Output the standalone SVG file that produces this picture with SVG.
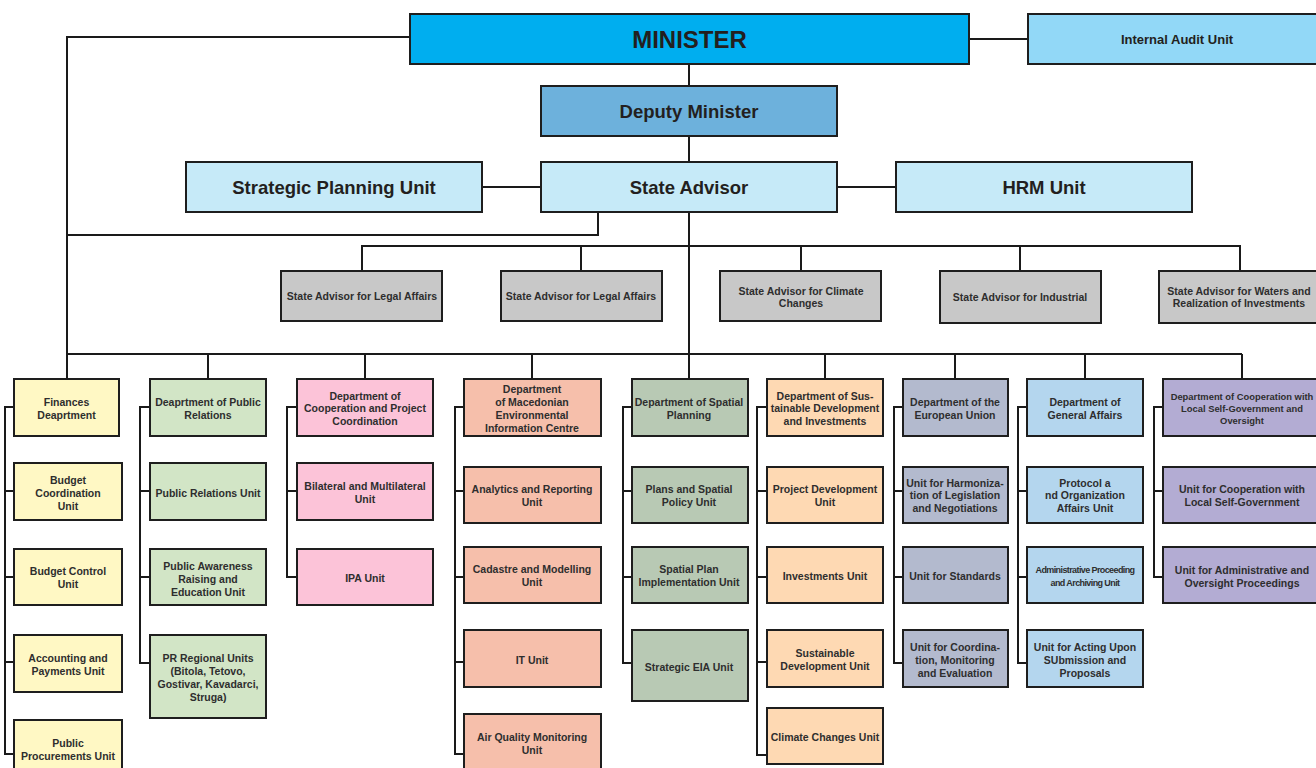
<svg xmlns="http://www.w3.org/2000/svg" width="1316" height="768" viewBox="0 0 1316 768">
<style>
.b{stroke:#1e1e1e;stroke-width:2}
.t{font-family:"Liberation Sans",Arial,sans-serif;font-weight:bold;fill:#2e2e2e;font-size:10.5px;text-anchor:middle}
.big{font-size:18.5px;fill:#231f20}
.c line,.c path{stroke:#1a1a1a;stroke-width:2;fill:none}
.y{fill:#fff8c4}.g{fill:#d2e5c6}.p{fill:#fcc3d8}.s{fill:#f6bfab}.sg{fill:#b8c9b4}.pe{fill:#fed9b3}.eu{fill:#b3bace}.lb{fill:#b4d6ee}.la{fill:#b3acd3}.gr{fill:#c8c8c8}
</style>
<rect width="1316" height="768" fill="#ffffff"/>
<g class="c" id="connectors">
<path d="M410,37 H67 V354"/>
<path d="M969,39 H1028"/>
<path d="M689,64 V86 M689,136 V162 M689,212 V354"/>
<path d="M482,187 H541 M837,187 H896"/>
<path d="M598,212 V235 H67"/>
<path d="M362,271 V246 H1240 V271 M581,246 V271 M801,246 V271 M1020,246 V271"/>
<path d="M67,354 H1242 M67,354 V379 M208,354 V379 M365,354 V379 M532,354 V379 M689,354 V379 M825,354 V379 M955,354 V379 M1085,354 V379 M1242,354 V379"/>
<path d="M14,407 H5 V754 H14 M5,491 H14 M5,577 H14 M5,662 H14"/>
<path d="M150,407 H140 V663 H150 M140,491 H150 M140,577 H150"/>
<path d="M297,407 H287 V577 H297 M287,491 H297"/>
<path d="M464,407 H455 V754 H464 M455,491 H464 M455,577 H464 M455,662 H464"/>
<path d="M632,407 H623 V663 H632 M623,491 H632 M623,577 H632"/>
<path d="M767,407 H757 V755 H767 M757,491 H767 M757,577 H767 M757,662 H767"/>
<path d="M903,407 H894 V663 H903 M894,491 H903 M894,577 H903"/>
<path d="M1027,407 H1018 V663 H1027 M1018,491 H1027 M1018,577 H1027"/>
<path d="M1163,407 H1154 V577 H1163 M1154,491 H1163"/>
</g>
<g id="minister"><rect class="b" x="410" y="14" width="559" height="50" fill="#00aeef"/><text class="t" x="689.5" y="47.6" style="font-size:24px;fill:#231f20">MINISTER</text></g>
<g id="internal-audit"><rect class="b" x="1028" y="14" width="300" height="50" fill="#92d8f7"/><text class="t" x="1177" y="43.7" style="font-size:13px;fill:#231f20">Internal Audit Unit</text></g>
<g id="deputy"><rect class="b" x="541" y="86" width="296" height="50" fill="#6db1dc"/><text class="t big" x="689" y="117.6">Deputy Minister</text></g>
<g id="state-advisor"><rect class="b" x="541" y="162" width="296" height="50" fill="#c6eaf8"/><text class="t big" x="689" y="193.6">State Advisor</text></g>
<g id="strategic-planning"><rect class="b" x="186" y="162" width="296" height="50" fill="#c6eaf8"/><text class="t big" x="334" y="193.6">Strategic Planning Unit</text></g>
<g id="hrm"><rect class="b" x="896" y="162" width="296" height="50" fill="#c6eaf8"/><text class="t big" x="1044" y="193.6">HRM Unit</text></g>

<g id="adv1"><rect class="b gr" x="281" y="271" width="161" height="50"/><text class="t" x="362" y="299.8">State Advisor for Legal Affairs</text></g>
<g id="adv2"><rect class="b gr" x="501" y="271" width="161" height="50"/><text class="t" x="581" y="299.8">State Advisor for Legal Affairs</text></g>
<g id="adv3"><rect class="b gr" x="720" y="271" width="161" height="50"/><text class="t" x="801" y="294.8">State Advisor for Climate</text><text class="t" x="801" y="307">Changes</text></g>
<g id="adv4"><rect class="b gr" x="940" y="271" width="161" height="52"/><text class="t" x="1020" y="300.8">State Advisor for Industrial</text></g>
<g id="adv5"><rect class="b gr" x="1159" y="271" width="165" height="52"/><text class="t" x="1239" y="294.8">State Advisor for Waters and</text><text class="t" x="1239" y="307">Realization of Investments</text></g>

<g id="finances"><rect class="b y" x="14" y="379" width="105" height="57"/><text class="t" x="66.5" y="405.8">Finances</text><text class="t" x="66.5" y="418.8">Deaprtment</text></g>
<g id="budget-coord"><rect class="b y" x="14" y="463" width="108" height="57"/><text class="t" x="68" y="484">Budget</text><text class="t" x="68" y="497">Coordination</text><text class="t" x="68" y="510">Unit</text></g>
<g id="budget-control"><rect class="b y" x="14" y="549" width="108" height="56"/><text class="t" x="68" y="575">Budget Control</text><text class="t" x="68" y="588">Unit</text></g>
<g id="accounting"><rect class="b y" x="14" y="635" width="108" height="57"/><text class="t" x="68" y="662">Accounting and</text><text class="t" x="68" y="674.5">Payments Unit</text></g>
<g id="procurements"><rect class="b y" x="14" y="720" width="108" height="60"/><text class="t" x="68" y="747">Public</text><text class="t" x="68" y="760">Procurements Unit</text></g>

<g id="pr-dept"><rect class="b g" x="150" y="379" width="116" height="57"/><text class="t" x="208" y="405.8">Deaprtment of Public</text><text class="t" x="208" y="418.8">Relations</text></g>
<g id="pr-unit"><rect class="b g" x="150" y="463" width="116" height="57"/><text class="t" x="208" y="496.8">Public Relations Unit</text></g>
<g id="pr-awareness"><rect class="b g" x="150" y="549" width="116" height="56"/><text class="t" x="208" y="569.8">Public Awareness</text><text class="t" x="208" y="582.8">Raising and</text><text class="t" x="208" y="595.8">Education Unit</text></g>
<g id="pr-regional"><rect class="b g" x="150" y="635" width="116" height="83"/><text class="t" x="208" y="661.8">PR Regional Units</text><text class="t" x="208" y="674.8">(Bitola, Tetovo,</text><text class="t" x="208" y="687.8">Gostivar, Kavadarci,</text><text class="t" x="208" y="700.8">Struga)</text></g>

<g id="coop-dept"><rect class="b p" x="297" y="379" width="136" height="57"/><text class="t" x="365" y="399.8">Department of</text><text class="t" x="365" y="412.3">Cooperation and Project</text><text class="t" x="365" y="424.8">Coordination</text></g>
<g id="bilateral"><rect class="b p" x="297" y="463" width="136" height="57"/><text class="t" x="365" y="489.8">Bilateral and Multilateral</text><text class="t" x="365" y="502.8">Unit</text></g>
<g id="ipa"><rect class="b p" x="297" y="549" width="136" height="56"/><text class="t" x="365" y="581.8">IPA Unit</text></g>

<g id="meic-dept"><rect class="b s" x="464" y="379" width="137" height="57"/><text class="t" x="532" y="392.8">Department</text><text class="t" x="532" y="405.8">of Macedonian</text><text class="t" x="532" y="418.8">Environmental</text><text class="t" x="532" y="431.8">Information Centre</text></g>
<g id="analytics"><rect class="b s" x="464" y="467" width="137" height="56"/><text class="t" x="532" y="492.8">Analytics and Reporting</text><text class="t" x="532" y="505.8">Unit</text></g>
<g id="cadastre"><rect class="b s" x="464" y="547" width="137" height="56"/><text class="t" x="532" y="572.8">Cadastre and Modelling</text><text class="t" x="532" y="585.8">Unit</text></g>
<g id="it"><rect class="b s" x="464" y="630" width="137" height="57"/><text class="t" x="532" y="663.8">IT Unit</text></g>
<g id="air"><rect class="b s" x="464" y="714" width="137" height="66"/><text class="t" x="532" y="740.8">Air Quality Monitoring</text><text class="t" x="532" y="753.8">Unit</text></g>

<g id="spatial-dept"><rect class="b sg" x="632" y="379" width="116" height="57"/><text class="t" x="689" y="405.8">Department of Spatial</text><text class="t" x="689" y="418.8">Planning</text></g>
<g id="plans"><rect class="b sg" x="632" y="467" width="116" height="56"/><text class="t" x="689" y="492.8">Plans and Spatial</text><text class="t" x="689" y="505.8">Policy Unit</text></g>
<g id="spatial-impl"><rect class="b sg" x="632" y="547" width="116" height="56"/><text class="t" x="689" y="572.8">Spatial Plan</text><text class="t" x="689" y="585.8">Implementation Unit</text></g>
<g id="eia"><rect class="b sg" x="632" y="630" width="116" height="71"/><text class="t" x="689" y="670.8">Strategic EIA Unit</text></g>

<g id="sust-dept"><rect class="b pe" x="767" y="379" width="116" height="57"/><text class="t" x="825" y="399.8">Department of Sus-</text><text class="t" x="825" y="412.3">tainable Development</text><text class="t" x="825" y="424.8">and Investments</text></g>
<g id="project-dev"><rect class="b pe" x="767" y="467" width="116" height="56"/><text class="t" x="825" y="492.8">Project Development</text><text class="t" x="825" y="505.8">Unit</text></g>
<g id="investments"><rect class="b pe" x="767" y="547" width="116" height="56"/><text class="t" x="825" y="579.8">Investments Unit</text></g>
<g id="sust-unit"><rect class="b pe" x="767" y="630" width="116" height="57"/><text class="t" x="825" y="656.8">Sustainable</text><text class="t" x="825" y="669.8">Development Unit</text></g>
<g id="climate"><rect class="b pe" x="767" y="708" width="116" height="56"/><text class="t" x="825" y="740.8">Climate Changes Unit</text></g>

<g id="eu-dept"><rect class="b eu" x="903" y="379" width="105" height="57"/><text class="t" x="955" y="405.8">Department of the</text><text class="t" x="955" y="418.8">European Union</text></g>
<g id="harmonization"><rect class="b eu" x="903" y="467" width="105" height="56"/><text class="t" x="955" y="486.8">Unit for Harmoniza-</text><text class="t" x="955" y="499.3">tion of Legislation</text><text class="t" x="955" y="511.8">and Negotiations</text></g>
<g id="standards"><rect class="b eu" x="903" y="547" width="105" height="56"/><text class="t" x="955" y="579.8">Unit for Standards</text></g>
<g id="coordination"><rect class="b eu" x="903" y="630" width="105" height="57"/><text class="t" x="955" y="650.8">Unit for Coordina-</text><text class="t" x="955" y="663.8">tion, Monitoring</text><text class="t" x="955" y="676.8">and Evaluation</text></g>

<g id="general-dept"><rect class="b lb" x="1027" y="379" width="116" height="57"/><text class="t" x="1085" y="405.8">Department of</text><text class="t" x="1085" y="418.8">General Affairs</text></g>
<g id="protocol"><rect class="b lb" x="1027" y="467" width="116" height="56"/><text class="t" x="1085" y="486.8">Protocol a</text><text class="t" x="1085" y="499.3">nd Organization</text><text class="t" x="1085" y="511.8">Affairs Unit</text></g>
<g id="admin-proc"><rect class="b lb" x="1027" y="547" width="116" height="56"/><text class="t" x="1085" y="573" style="font-size:9px;letter-spacing:-0.6px">Administrative Proceeding</text><text class="t" x="1085" y="586" style="font-size:9px;letter-spacing:-0.6px">and Archiving Unit</text></g>
<g id="acting"><rect class="b lb" x="1027" y="630" width="116" height="57"/><text class="t" x="1085" y="650.8">Unit for Acting Upon</text><text class="t" x="1085" y="663.8">SUbmission and</text><text class="t" x="1085" y="676.8">Proposals</text></g>

<g id="lsg-dept"><rect class="b la" x="1163" y="379" width="160" height="57"/><text class="t" x="1242" y="399.5" style="font-size:9.4px">Department of Cooperation with</text><text class="t" x="1242" y="411.8" style="font-size:9.4px">Local Self-Government and</text><text class="t" x="1242" y="424.3" style="font-size:9.4px">Oversight</text></g>
<g id="lsg-coop"><rect class="b la" x="1163" y="467" width="160" height="56"/><text class="t" x="1242" y="492.8">Unit for Cooperation with</text><text class="t" x="1242" y="505.8">Local Self-Government</text></g>
<g id="lsg-admin"><rect class="b la" x="1163" y="547" width="160" height="56"/><text class="t" x="1242" y="573.8">Unit for Administrative and</text><text class="t" x="1242" y="586.8">Oversight Proceedings</text></g>
</svg>
